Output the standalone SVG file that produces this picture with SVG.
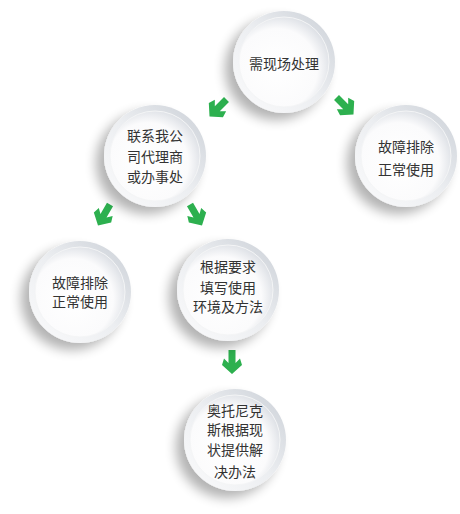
<svg xmlns="http://www.w3.org/2000/svg" width="460" height="514" viewBox="0 0 460 514">
<style>
.t{font-family:"Noto Sans CJK SC","Noto Sans",sans-serif;font-size:14px;fill:#333;text-anchor:middle;dominant-baseline:central}
.arr{fill:#2db04f}
</style>
<defs>
<filter id="sh" x="-50%" y="-50%" width="200%" height="200%">
<feGaussianBlur in="SourceAlpha" stdDeviation="6"/>
<feOffset dx="-8" dy="7" result="b"/>
<feComponentTransfer><feFuncA type="linear" slope="0.3"/></feComponentTransfer>
<feMerge><feMergeNode/><feMergeNode in="SourceGraphic"/></feMerge>
</filter>
<linearGradient id="ring" x1="0" y1="1" x2="1" y2="0">
<stop offset="0" stop-color="#fbfbfc"/>
<stop offset="0.5" stop-color="#eceef1"/>
<stop offset="1" stop-color="#cbd0d7"/>
</linearGradient>
<radialGradient id="disc" cx="0.42" cy="0.58" r="0.6">
<stop offset="0" stop-color="#ffffff"/>
<stop offset="0.75" stop-color="#fbfbfc"/>
<stop offset="1" stop-color="#dfe2e7"/>
</radialGradient>
<g id="plate">
<circle r="51" fill="url(#ring)" filter="url(#sh)"/>
<circle r="45" fill="url(#disc)" stroke="#f4f5f6" stroke-width="1"/>
</g>
<path id="ad" d="M-3.5,-12 H3.5 V1 L8,-3.5 L10,3 L0,12 L-10,3 L-8,-3.5 L-3.5,1 Z"/>
</defs>
<g id="connectors" class="arr">
<use href="#ad" transform="translate(218,108) rotate(45)"/>
<use href="#ad" transform="translate(345,106) rotate(-45)"/>
<use href="#ad" transform="translate(104,215) rotate(30)"/>
<use href="#ad" transform="translate(196,215) rotate(-30)"/>
<use href="#ad" transform="translate(232,362)"/>
</g>
<g id="n1" transform="translate(284,62)">
<use href="#plate"/>
<text class="t" x="0" y="1">需现场处理</text>
</g>
<g id="n2" transform="translate(155,156)">
<use href="#plate"/>
<text class="t" x="0" y="-21">联系我公</text>
<text class="t" x="0" y="0">司代理商</text>
<text class="t" x="0" y="20">或办事处</text>
</g>
<g id="n3" transform="translate(406,156)">
<use href="#plate"/>
<text class="t" x="0" y="-10">故障排除</text>
<text class="t" x="0" y="13">正常使用</text>
</g>
<g id="n4" transform="translate(80,292)">
<use href="#plate"/>
<text class="t" x="0" y="-10">故障排除</text>
<text class="t" x="0" y="9">正常使用</text>
</g>
<g id="n5" transform="translate(228,290)">
<use href="#plate"/>
<text class="t" x="0" y="-24">根据要求</text>
<text class="t" x="0" y="-3">填写使用</text>
<text class="t" x="0" y="16">环境及方法</text>
</g>
<g id="n6" transform="translate(235,440)">
<use href="#plate"/>
<text class="t" x="0" y="-30">奥托尼克</text>
<text class="t" x="0" y="-11">斯根据现</text>
<text class="t" x="0" y="9">状提供解</text>
<text class="t" x="0" y="31">决办法</text>
</g>
</svg>
